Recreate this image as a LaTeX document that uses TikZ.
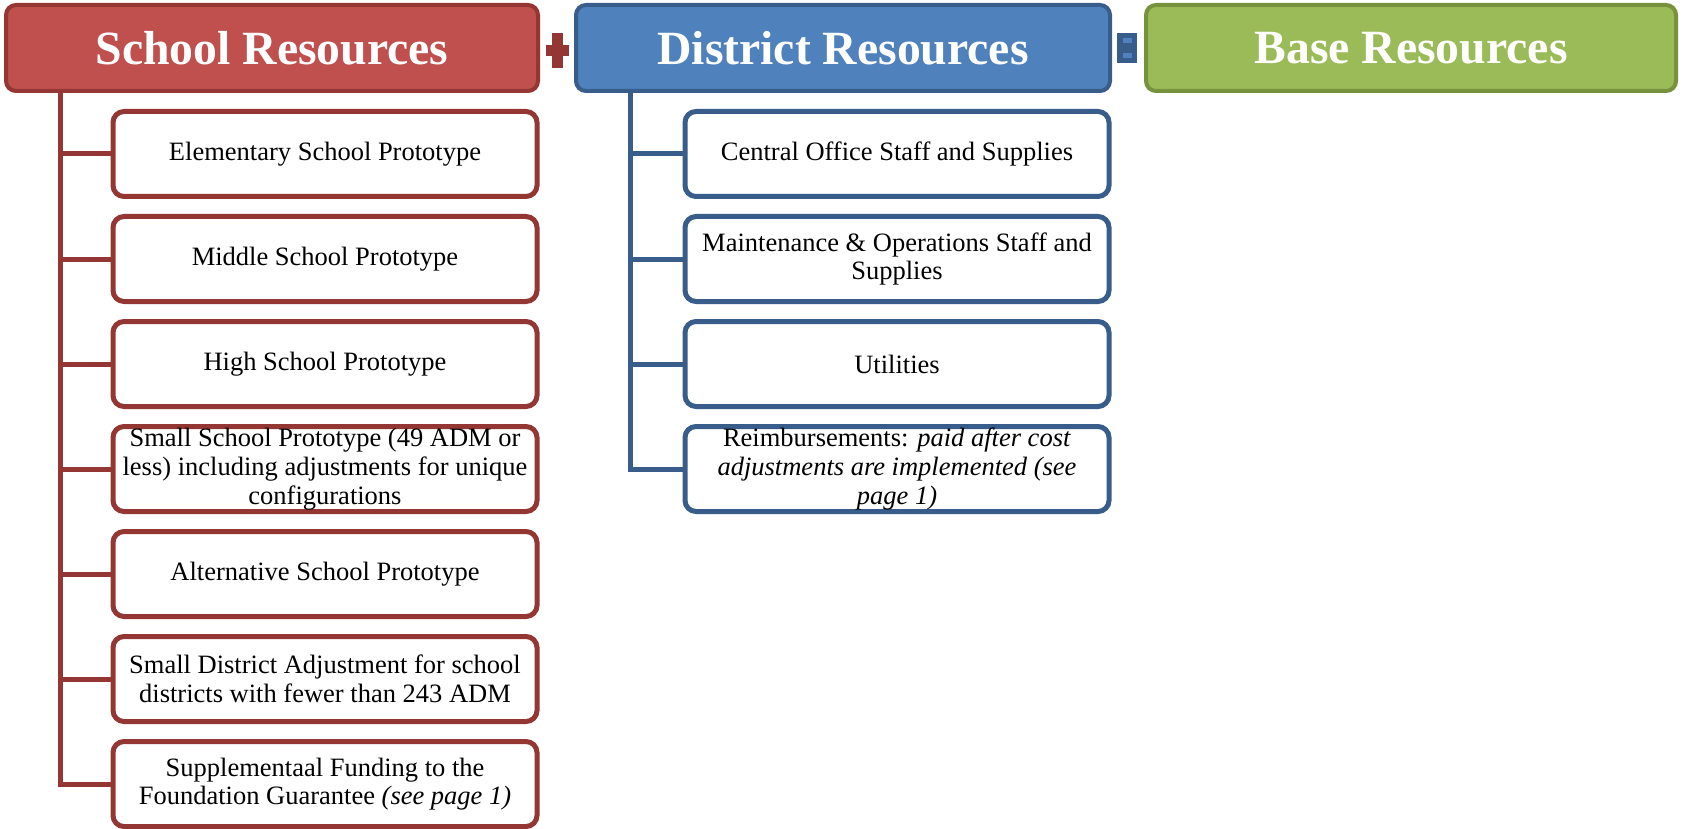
\documentclass[tikz,border=0pt]{standalone}
\usepackage{fontspec}
\setmainfont{Liberation Serif}
\definecolor{redfill}{HTML}{C0504D}
\definecolor{redline}{HTML}{943634}
\definecolor{bluefill}{HTML}{4F81BD}
\definecolor{blueline}{HTML}{385D8A}
\definecolor{greenfill}{HTML}{9BBB59}
\definecolor{greenline}{HTML}{76923C}
\begin{document}
\begin{tikzpicture}[x=1pt,y=-1pt,
  head/.style={rounded corners=10pt, line width=4pt, text=white,
    font=\fontsize{47.7}{57}\selectfont\bfseries, minimum height=86pt, inner sep=0pt},
  child/.style={rounded corners=11pt, line width=5pt, fill=white,
    minimum width=424pt, minimum height=85pt, align=center, inner sep=0pt,
    font=\fontsize{26.5}{28.7}\selectfont},
  redchild/.style={child, draw=redline},
  bluechild/.style={child, draw=blueline},
  redconn/.style={draw=redline, line width=5pt},
  blueconn/.style={draw=blueline, line width=5pt}]
\fill[white] (0,0) rectangle (1681,829);
\useasboundingbox (0,0) rectangle (1681,829);

% headers
\node[head, fill=redfill, draw=redline, minimum width=532pt] (school) at (272,48) {School Resources};
\node[head, fill=bluefill, draw=blueline, minimum width=534pt] (district) at (843,48) {District Resources};
\node[head, fill=greenfill, draw=greenline, minimum width=530pt] (base) at (1411,48) {Base Resources};

% operators
\fill[redline] (546,45) rectangle (569,56);
\fill[redline] (552,33) rectangle (563,68);
\fill[blueline] (1117,33) rectangle (1137,63);
\fill[bluefill] (1123,38) rectangle (1132,43);
\fill[bluefill] (1123,53) rectangle (1132,58);

% school children
\node[redchild] (s1) at (325,154) {Elementary School Prototype};
\node[redchild] (s2) at (325,259) {Middle School Prototype};
\node[redchild] (s3) at (325,364) {High School Prototype};
\node[redchild] (s4) at (325,469) {Small School Prototype (49 ADM or\\less) including adjustments for unique\\configurations};
\node[redchild] (s5) at (325,574) {Alternative School Prototype};
\node[redchild] (s6) at (325,679) {Small District Adjustment for school\\districts with fewer than 243 ADM};
\node[redchild] (s7) at (325,784) {Supplementaal Funding to the\\Foundation Guarantee \textit{(see page 1)}};

% district children
\node[bluechild] (d1) at (897,154) {Central Office Staff and Supplies};
\node[bluechild] (d2) at (897,259) {Maintenance \& Operations Staff and\\Supplies};
\node[bluechild] (d3) at (897,364) {Utilities};
\node[bluechild] (d4) at (897,469) {Reimbursements: \textit{paid after cost}\\\textit{adjustments are implemented (see}\\\textit{page 1)}};

% connectors
\coordinate (st) at ([xshift=56pt]school.south west);
\coordinate (dt) at ([xshift=56pt]district.south west);
\draw[redconn] (st) |- (s7.west);
\foreach \n in {s1,s2,s3,s4,s5,s6}{\draw[redconn] (st |- \n.west) -- (\n.west);}
\draw[blueconn] (dt) |- (d4.west);
\foreach \n in {d1,d2,d3}{\draw[blueconn] (dt |- \n.west) -- (\n.west);}
\end{tikzpicture}
\end{document}
